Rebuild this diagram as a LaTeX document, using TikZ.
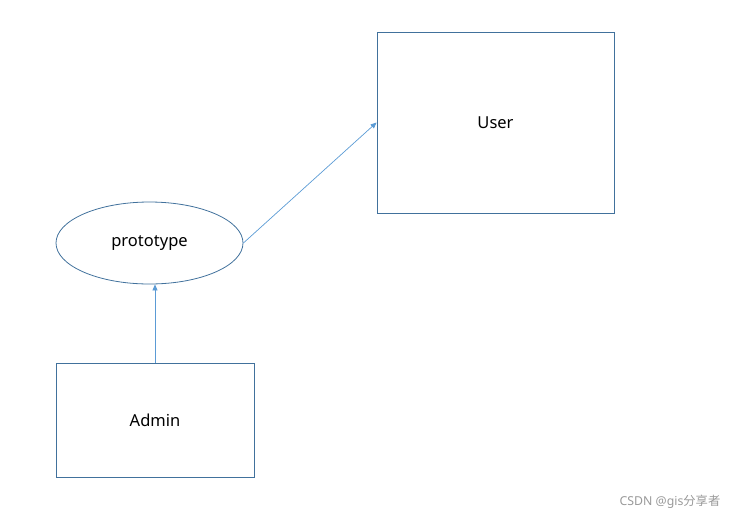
\documentclass[tikz,border=0pt]{standalone}
\usepackage{fontspec}
\setmainfont{Noto Sans}
\newfontfamily\cjk{Noto Sans CJK SC}
\usetikzlibrary{shapes.geometric,arrows.meta}
\definecolor{boxline}{HTML}{41719C}
\definecolor{arrowline}{HTML}{5B9BD5}
\tikzset{
  box/.style={draw=boxline,rectangle,inner sep=0pt,line width=0.8pt},
  oval/.style={draw=boxline,ellipse,inner sep=0pt,line width=0.8pt},
  link/.style={draw=arrowline,line width=0.7pt,-{Triangle[length=6pt,width=5pt]}}
}
\begin{document}
\begin{tikzpicture}[x=1pt,y=-1pt,font=\fontsize{16.5}{19}\selectfont]
\useasboundingbox (0,0) rectangle (733,515);

% nodes
\node[box,minimum width=237pt,minimum height=181pt] (user) at (495.5,122.5) {User};
\node[oval,minimum width=187pt,minimum height=82pt] (proto) at (149.5,243) {prototype};
\node[box,minimum width=198pt,minimum height=114pt] (admin) at (155,420) {Admin};
\node[text=black!40,font=\fontsize{12.3}{14}\selectfont] (mark) at (670,502) {CSDN @gis{\cjk 分享者}};

% arrows
\draw[link] (proto.east) -- (user.west);
\draw[link] (admin.north) -- (proto.south -| admin.north);
\end{tikzpicture}
\end{document}
